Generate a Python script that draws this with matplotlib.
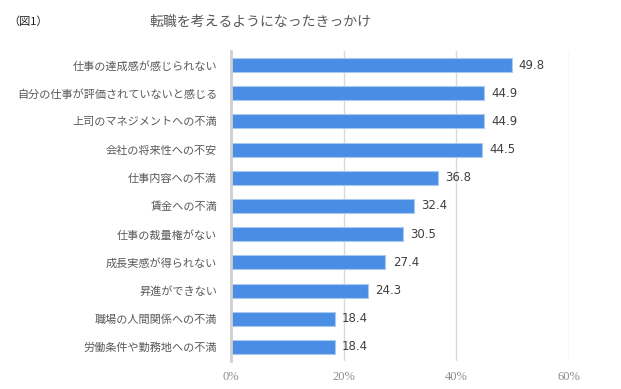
import matplotlib
matplotlib.use("Agg")
import matplotlib.pyplot as plt

plt.rcParams['font.family'] = ['Noto Sans CJK JP', 'DejaVu Sans']

categories = [
    "仕事の達成感が感じられない",
    "自分の仕事が評価されていないと感じる",
    "上司のマネジメントへの不満",
    "会社の将来性への不安",
    "仕事内容への不満",
    "賃金への不満",
    "仕事の裁量権がない",
    "成長実感が得られない",
    "昇進ができない",
    "職場の人間関係への不満",
    "労働条件や勤務地への不満",
]
values = [49.8, 44.9, 44.9, 44.5, 36.8, 32.4, 30.5, 27.4, 24.3, 18.4, 18.4]
xticks = [0, 20, 40, 60]
xtick_labels = ["0%", "20%", "40%", "60%"]
title = "転職を考えるようになったきっかけ"
fig_label = "（図1）"

fig = plt.figure(figsize=(6.21, 3.89), dpi=100)
ax = fig.add_axes([231/621, 1-361/389, (569-231)/621, (361-51)/389])

y = list(range(len(categories)))
ax.barh(y, values, height=0.5, color='#4a8de4', edgecolor='#a9c9f1', linewidth=0.8, zorder=3)
ax.set_ylim(len(categories)-0.5, -0.5)
ax.set_xlim(0, 60)

ax.set_yticks(y)
ax.set_yticklabels(categories, fontsize=8, color='#595959')
ax.tick_params(axis='y', length=0, pad=10)
ax.set_xticks(xticks)
ax.set_xticklabels(xtick_labels, fontsize=9, color='#8c8c8c', family=['Liberation Serif'])
ax.tick_params(axis='x', length=0, pad=7)

ax.grid(axis='x', color='#d9d9d9', linewidth=1, zorder=0)
for s in ['top', 'right', 'bottom']:
    ax.spines[s].set_visible(False)
ax.spines['left'].set_color('#d0d0d0')
ax.spines['left'].set_linewidth(2)
ax.spines['left'].set_zorder(4)

for yi, v in zip(y, values):
    ax.text(v + 1.3, yi, f"{v:.1f}", va='center', ha='left', fontsize=8.5,
            color='#404040', family=['DejaVu Sans'])

fig.text(260/621, 1-22/389, title, ha='center', va='center', fontsize=10, color='#595959')
fig.text(8/621, 1-22/389, fig_label, ha='left', va='center', fontsize=8, color='#222222')

fig.savefig("out.png", dpi=100)
